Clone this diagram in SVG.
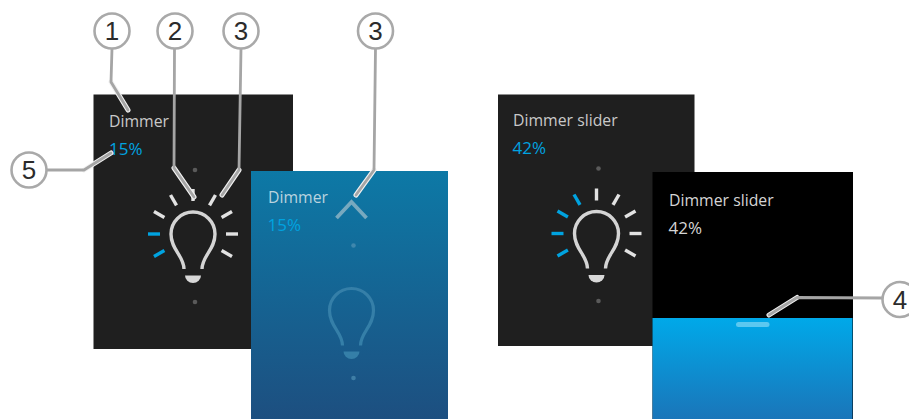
<svg xmlns="http://www.w3.org/2000/svg" width="909" height="419" viewBox="0 0 909 419">
<style>
.t{font-family:"Open Sans","Liberation Sans",sans-serif;font-size:15.8px}
.p{font-family:"Open Sans","Liberation Sans",sans-serif;font-size:17px}
.lt{fill:#c9c9c9}.bl{fill:#00a3e0}.wh{fill:#e6e6e6}
.n{font-family:"Liberation Sans",Arial,sans-serif;font-size:26px;fill:#2b2b2b;text-anchor:middle}
.c{fill:#fff;stroke:#a9a9a9;stroke-width:2.6}
.ray{stroke:#e2e2e2;stroke-width:3.4;fill:none}
.rb{stroke:#00a3e0}
.bulb{fill:none;stroke:#d4d4d4;stroke-width:3.4}
.base{fill:#d8d8d8}
.dot{fill:#5a5a5a}
.halo{fill:none;stroke:#f2f2f2;stroke-width:5;stroke-linejoin:round;stroke-linecap:round}
.lead{fill:none;stroke:#a5a5a5;stroke-width:2.8;stroke-linejoin:round;stroke-linecap:round}
</style>
<defs>
<linearGradient id="g1" x1="0" y1="0" x2="0" y2="1"><stop offset="0" stop-color="#0d79a6"/><stop offset="1" stop-color="#1d4f80"/></linearGradient>
<linearGradient id="g2" x1="0" y1="0" x2="0" y2="1"><stop offset="0" stop-color="#00a9e9"/><stop offset="1" stop-color="#1a75b9"/></linearGradient>
<g id="bulbShape"><path class="bulb" d="M-9,35 C-9,22 -22,16 -22,0 A22,22 0 0 1 22,0 C22,16 9,22 9,35"/><path class="base" d="M-8,41.5 H8 A8,7.5 0 0 1 -8,41.5 Z"/></g>
<g id="rays">
<path class="ray" d="M33,0H45"/>
<path class="ray" d="M28.6,16.5L39,22.5"/>
<path class="ray" d="M28.6,-16.5L39,-22.5"/>
<path class="ray" d="M16.5,-28.6L22.5,-39"/>
<path class="ray" d="M0,-33V-45"/>
</g>
</defs>
<rect width="909" height="419" fill="#fff"/>

<g id="panel-dimmer">
<rect x="93.500" y="94.500" width="199.500" height="254.500" fill="#1f1f1f"/>
<text class="t lt" x="109" y="127">Dimmer</text>
<text class="p bl" x="109" y="155">15%</text>
<circle class="dot" cx="195" cy="170" r="2.300"/>
<circle class="dot" cx="195" cy="302" r="2.300"/>
<g transform="translate(193,234)">
<use href="#rays"/>
<path class="ray" d="M-16.500,-28.600L-22.500,-39"/>
<path class="ray" d="M-28.600,-16.500L-39,-22.500"/>
<path class="ray rb" d="M-33,0H-45"/>
<path class="ray rb" d="M-28.600,16.500L-39,22.500"/>
<use href="#bulbShape"/>
</g>
</g>

<g id="panel-dimmer-active">
<rect x="251" y="171" width="197" height="248" fill="url(#g1)"/>
<text class="t" fill="#b9d3df" x="268" y="203">Dimmer</text>
<text class="p bl" x="267.500" y="231">15%</text>
<path d="M336.500,218L351.500,202L366.500,218" fill="none" stroke="#78a9bf" stroke-width="3.800"/>
<circle cx="353.500" cy="245.500" r="2.300" fill="#3f87ad"/>
<circle cx="353.500" cy="378" r="2.300" fill="#3f7ea6"/>
<g transform="translate(351.500,310.500)">
<path d="M-9,35 C-9,22 -22,16 -22,0 A22,22 0 0 1 22,0 C22,16 9,22 9,35" fill="none" stroke="#357fa8" stroke-width="3.200"/>
<path d="M-8,41 H8 A8,7.500 0 0 1 -8,41 Z" fill="#357fa8"/>
</g>
</g>

<g id="panel-slider">
<rect x="498" y="94.500" width="196.500" height="251.500" fill="#1f1f1f"/>
<text class="t lt" x="513" y="126">Dimmer slider</text>
<text class="p bl" x="512.500" y="154">42%</text>
<circle class="dot" cx="598.500" cy="168.500" r="2.300"/>
<circle class="dot" cx="598.500" cy="301" r="2.300"/>
<g transform="translate(596.500,233.500)">
<use href="#rays"/>
<path class="ray rb" d="M-16.500,-28.600L-22.500,-39"/>
<path class="ray rb" d="M-28.600,-16.500L-39,-22.500"/>
<path class="ray rb" d="M-33,0H-45"/>
<path class="ray rb" d="M-28.600,16.500L-39,22.500"/>
<use href="#bulbShape"/>
</g>
</g>

<g id="panel-slider-active">
<rect x="652.500" y="172" width="200.500" height="247" fill="#000"/>
<rect x="652.500" y="318" width="200" height="101" fill="url(#g2)"/>
<text class="t" fill="#d5d5d5" x="669" y="205.500">Dimmer slider</text>
<text class="p" fill="#d5d5d5" x="668.500" y="233.500">42%</text>
<rect x="736" y="322" width="33.500" height="5" rx="2.500" fill="#5cc8f0"/>
</g>

<g id="connectors">
<path class="halo" d="M111,82L128,110"/>
<path class="lead" d="M112,48.500L111,82L128,110"/>
<path class="halo" d="M174,168L194,197"/>
<path class="lead" d="M174.500,48.500L174,168L194,197"/>
<path class="halo" d="M239,170L222,195"/>
<path class="lead" d="M241,48.500L239,170L222,195"/>
<path class="halo" d="M374,170L356,195"/>
<path class="lead" d="M375.500,48.500L374,170L356,195"/>
<path class="halo" d="M84,170L111,153"/>
<path class="lead" d="M46.500,170L84,170L111,153"/>
<path class="halo" d="M797,297.500L769,315"/>
<path class="lead" d="M882,298L797,297.500L769,315"/>
</g>

<g id="callout-1"><circle class="c" cx="112" cy="31" r="17.500"/><text class="n" x="112" y="40">1</text></g>
<g id="callout-2"><circle class="c" cx="175" cy="31" r="17.500"/><text class="n" x="175" y="40">2</text></g>
<g id="callout-3a"><circle class="c" cx="241" cy="31" r="17.500"/><text class="n" x="241" y="40">3</text></g>
<g id="callout-3b"><circle class="c" cx="375.500" cy="31" r="17.500"/><text class="n" x="375.500" y="40">3</text></g>
<g id="callout-5"><circle class="c" cx="29" cy="170" r="17.500"/><text class="n" x="29" y="179">5</text></g>
<g id="callout-4"><circle class="c" cx="900" cy="299.500" r="17.500"/><text class="n" x="900" y="308.500">4</text></g>
</svg>
